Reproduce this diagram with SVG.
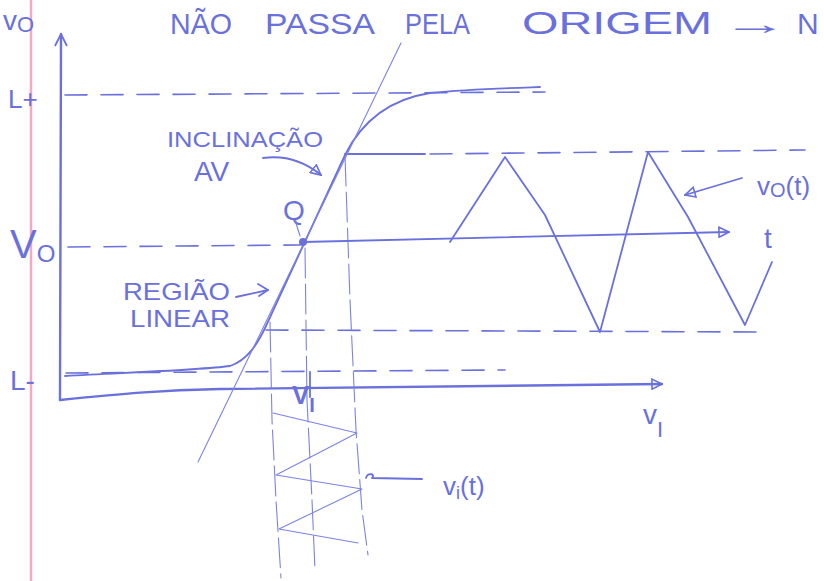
<svg xmlns="http://www.w3.org/2000/svg" width="824" height="581" viewBox="0 0 824 581">
<defs>
<style>
.ink{fill:none;stroke:#6a70dc;stroke-linecap:round;stroke-linejoin:round}
.thick{stroke-width:2.4}
.med{stroke-width:1.8}
.thin{stroke-width:1.1;stroke:#7c82e2}
.dash{stroke-width:1.6;stroke-dasharray:22 14}
.vdash{stroke-width:1.1;stroke:#7c82e2;stroke-dasharray:30 6}
.txt{fill:#6a70dc;font-family:"Liberation Sans","DejaVu Sans",sans-serif}
</style>
<marker id="open" viewBox="0 0 12 12" refX="11" refY="6" markerWidth="12" markerHeight="12" markerUnits="userSpaceOnUse" orient="auto">
<path d="M1,1 L11,6 L1,11 Z" fill="none" stroke="#6a70dc" stroke-width="1.6"/>
</marker>
<marker id="vhead" viewBox="0 0 14 14" refX="13" refY="7" markerWidth="14" markerHeight="14" markerUnits="userSpaceOnUse" orient="auto">
<path d="M1,1 L13,7 L1,13" fill="none" stroke="#6a70dc" stroke-width="1.8"/>
</marker>
</defs>
<rect width="824" height="581" fill="#ffffff"/>
<!-- paper margin -->
<line x1="31" y1="0" x2="31" y2="581" stroke="#f4a8c6" stroke-width="2.5"/>

<!-- title -->
<g id="title">
<text class="txt" x="170" y="34" font-size="30" textLength="62" lengthAdjust="spacingAndGlyphs">NÃO</text>
<text class="txt" x="265" y="34" font-size="30" textLength="110" lengthAdjust="spacingAndGlyphs">PASSA</text>
<text class="txt" x="405" y="34" font-size="30" textLength="65" lengthAdjust="spacingAndGlyphs">PELA</text>
<text class="txt" x="522" y="34" font-size="32" textLength="190" lengthAdjust="spacingAndGlyphs">ORIGEM</text>
<text class="txt" x="722" y="34" font-size="30" textLength="66" lengthAdjust="spacingAndGlyphs">→</text>
<text class="txt" x="797" y="34" font-size="30">N</text>
</g>

<!-- axes -->
<g id="axes">
<path class="ink thick" d="M60,400 L61,34" marker-end="url(#vhead)"/>
<path class="ink thick" d="M60,400 C120,394 160,390 220,389 L662,384" marker-end="url(#open)"/>
<text class="txt" x="3" y="30" font-size="28">v<tspan font-size="22" dy="2">O</tspan></text>
<text class="txt" x="8" y="108" font-size="26">L+</text>
<text class="txt" x="10" y="258" font-size="40">V<tspan font-size="24" dy="4">O</tspan></text>
<text class="txt" x="10" y="390" font-size="28">L-</text>
<text class="txt" x="643" y="424" font-size="28">v<tspan font-size="22" dy="13">I</tspan></text>
</g>

<!-- guide lines -->
<g id="guides">
<line class="ink dash" x1="65" y1="95" x2="545" y2="92"/>
<line class="ink dash" x1="68" y1="247" x2="300" y2="245"/>
<line class="ink dash" x1="66" y1="373" x2="505" y2="370"/>
<path class="ink med" d="M345,154 L425,154"/>
<line class="ink dash" x1="430" y1="154" x2="805" y2="150"/>
<line class="ink dash" x1="266" y1="330" x2="760" y2="332"/>
<path class="ink vdash" d="M270,322 L272,420 L276,500 L281,578"/>
<path class="ink vdash" d="M305,248 L307,400 L312,500 L315,570"/>
<path class="ink vdash" d="M345,156 L350,300 L356,430 L362,510 L368,555"/>
</g>

<!-- transfer characteristic -->
<g id="transfer">
<path class="ink med" d="M65,376 C140,372 200,370 230,366 C248,360 258,343 266,326 L345,155 C360,125 385,100 430,93 C470,89 510,88 540,87"/>
<line class="ink thin" x1="198" y1="462" x2="401" y2="43"/>
<circle cx="303" cy="242" r="4" fill="#6a70dc"/>
<text class="txt" x="283" y="220" font-size="28">Q</text>
<line class="ink thin" x1="295" y1="220" x2="300" y2="236"/>
</g>

<!-- annotations -->
<g id="inclinacao">
<text class="txt" x="167" y="147" font-size="22" textLength="156" lengthAdjust="spacingAndGlyphs">INCLINAÇÃO</text>
<text class="txt" x="194" y="181" font-size="28">AV</text>
<path class="ink med" d="M263,158 C285,155 305,162 321,175" marker-end="url(#open)"/>
</g>
<g id="regiao">
<text class="txt" x="123" y="300" font-size="24" textLength="107" lengthAdjust="spacingAndGlyphs">REGIÃO</text>
<text class="txt" x="130" y="327" font-size="24" textLength="100" lengthAdjust="spacingAndGlyphs">LINEAR</text>
<path class="ink med" d="M236,297 L268,290"/>
<path class="ink med" d="M258,284 L268,290 L259,296"/>
</g>

<!-- output signal -->
<g id="vo-signal">
<path class="ink med" d="M303,242 L729,232" marker-end="url(#open)"/>
<path class="ink med" d="M450,242 L505,157 L545,215 L600,332 L648,152 L688,217 L745,325 L772,262"/>
<text class="txt" x="764" y="248" font-size="28">t</text>
<text class="txt" x="757" y="195" font-size="26">v<tspan font-size="20" dy="2">O</tspan><tspan dy="-2">(t)</tspan></text>
<path class="ink med" d="M742,178 L685,195" marker-end="url(#open)"/>
</g>

<!-- input signal -->
<g id="vi-signal">
<path class="ink med" d="M310,372 L310,397"/>
<text class="txt" x="292" y="404" font-size="26" font-weight="bold">V<tspan font-size="20" dy="8">I</tspan></text>
<path class="ink thin" stroke-width="1.4" d="M273,413 L357,433 L276,475 L362,489 L279,529 L358,543"/>
<path class="ink med" d="M366,478 C368,472 376,474 372,478 L422,479"/>
<text class="txt" x="443" y="495" font-size="26">v<tspan font-size="18" dy="4">i</tspan><tspan dy="-4">(t)</tspan></text>
</g>
</svg>
